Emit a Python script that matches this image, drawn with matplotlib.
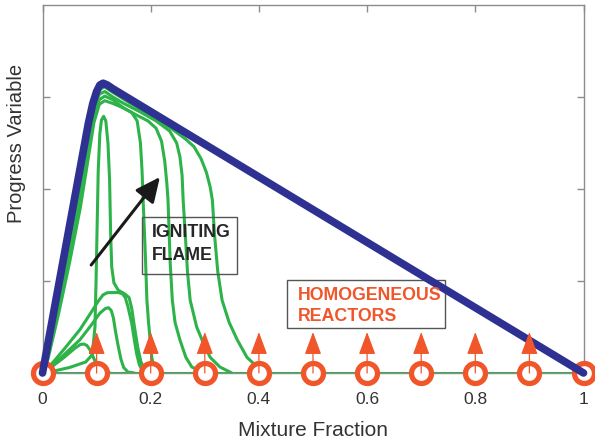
import matplotlib
matplotlib.use("Agg")
import matplotlib.pyplot as plt
from matplotlib.patches import Rectangle

plt.rcParams['font.family'] = ['Liberation Sans', 'DejaVu Sans']

# ---- data -------------------------------------------------------------
# fully burning limit (upper bound of the progress variable)
eq_z = [0.0, 0.02, 0.04, 0.06, 0.075, 0.085, 0.093, 0.100, 0.106, 0.112, 0.120, 0.130, 1.0]
eq_c = [0.0, 0.64, 1.28, 1.92, 2.40, 2.72, 2.93, 3.06, 3.13, 3.15, 3.13, 3.09, 0.0]

# igniting flamelet, successive instants
base_z = [0.0, 1.0]
base_c = [0.0, 0.0]

bump_z = [0.0, 0.02, 0.04, 0.06, 0.070, 0.076, 0.082, 0.088, 0.094, 0.100, 0.106, 0.115, 0.125]
bump_c = [0.0, 0.08, 0.17, 0.27, 0.31, 0.315, 0.30, 0.25, 0.17, 0.09, 0.04, 0.01, 0.0]

peak_z = [0.0, 0.02, 0.04, 0.069, 0.09, 0.106, 0.116, 0.122, 0.127, 0.131, 0.135, 0.140, 0.145, 0.150, 0.158, 0.170]
peak_c = [0.0, 0.09, 0.20, 0.36, 0.52, 0.65, 0.70, 0.71, 0.68, 0.60, 0.45, 0.29, 0.15, 0.06, 0.01, 0.0]

plat_z = [0.0, 0.02, 0.04, 0.069, 0.09, 0.103, 0.112, 0.120, 0.140, 0.148, 0.153, 0.158, 0.165, 0.170, 0.174, 0.179, 0.185, 0.195]
plat_c = [0.0, 0.12, 0.26, 0.47, 0.66, 0.78, 0.85, 0.873, 0.875, 0.86, 0.82, 0.72, 0.54, 0.35, 0.21, 0.09, 0.02, 0.0]

spike_z = [0.0, 0.02, 0.05, 0.08, 0.092, 0.097, 0.099, 0.101, 0.103, 0.106, 0.109, 0.113, 0.117, 0.121,
           0.124, 0.126, 0.128, 0.132, 0.140, 0.152, 0.160, 0.165, 0.170, 0.176, 0.182, 0.190, 0.200]
spike_c = [0.0, 0.02, 0.06, 0.12, 0.20, 0.50, 1.00, 1.60, 2.20, 2.60, 2.75, 2.79, 2.74, 2.50,
           2.10, 1.50, 1.15, 0.98, 0.90, 0.86, 0.82, 0.70, 0.50, 0.28, 0.12, 0.03, 0.0]

d_z = [0.0, 0.01, 0.03, 0.05, 0.07, 0.085, 0.095, 0.105, 0.115, 0.130, 0.150, 0.165, 0.175, 0.181,
       0.184, 0.186, 0.190, 0.193, 0.196, 0.199, 0.202, 0.206, 0.215]
d_c = [0.0, 0.15, 0.65, 1.20, 1.80, 2.35, 2.72, 2.92, 2.96, 2.93, 2.88, 2.83, 2.74, 2.50,
       2.20, 1.88, 1.30, 0.79, 0.55, 0.36, 0.17, 0.06, 0.0]

e_z = [0.0, 0.01, 0.03, 0.05, 0.07, 0.085, 0.095, 0.105, 0.115, 0.130, 0.150, 0.175, 0.195, 0.210,
       0.220, 0.226, 0.230, 0.232, 0.236, 0.240, 0.245, 0.254, 0.265, 0.276, 0.300]
e_c = [0.0, 0.17, 0.70, 1.30, 1.90, 2.45, 2.80, 2.97, 3.01, 2.97, 2.88, 2.80, 2.74, 2.66,
       2.52, 2.30, 2.05, 1.88, 1.20, 0.79, 0.55, 0.36, 0.17, 0.065, 0.0]

f_z = [0.0, 0.01, 0.03, 0.05, 0.07, 0.085, 0.095, 0.105, 0.115, 0.130, 0.150, 0.180, 0.210, 0.235,
       0.248, 0.254, 0.258, 0.260, 0.264, 0.268, 0.273, 0.285, 0.297, 0.310, 0.328, 0.350]
f_c = [0.0, 0.19, 0.75, 1.38, 2.00, 2.55, 2.87, 3.03, 3.06, 3.00, 2.93, 2.84, 2.74, 2.63,
       2.50, 2.35, 2.15, 1.88, 1.50, 1.10, 0.79, 0.50, 0.33, 0.17, 0.065, 0.0]

g_z = [0.0, 0.01, 0.03, 0.05, 0.07, 0.085, 0.095, 0.105, 0.115, 0.130, 0.160, 0.200, 0.240, 0.265,
       0.280, 0.293, 0.303, 0.310, 0.314, 0.318, 0.324, 0.332, 0.345, 0.360, 0.378, 0.397, 0.420]
g_c = [0.0, 0.22, 0.80, 1.45, 2.10, 2.62, 2.93, 3.08, 3.11, 3.05, 2.94, 2.80, 2.65, 2.54,
       2.46, 2.33, 2.18, 2.02, 1.88, 1.50, 1.10, 0.79, 0.55, 0.36, 0.17, 0.065, 0.0]

flame_curves = [(base_z, base_c), (bump_z, bump_c), (peak_z, peak_c), (plat_z, plat_c),
                (spike_z, spike_c), (d_z, d_c), (e_z, e_c), (f_z, f_c), (g_z, g_c)]

# homogeneous reactors
reactor_z = [0.0, 0.1, 0.2, 0.3, 0.4, 0.5, 0.6, 0.7, 0.8, 0.9, 1.0]
reactor_c = [0.0] * len(reactor_z)
rise_z = [0.1, 0.2, 0.3, 0.4, 0.5, 0.6, 0.7, 0.8, 0.9]

xticks = [0, 0.2, 0.4, 0.6, 0.8, 1]
xticklabels = ['0', '0.2', '0.4', '0.6', '0.8', '1']
yticks = [1, 2, 3]

# ---- style ------------------------------------------------------------
GREEN = '#2DB34A'
BLUE = '#2E3192'
ORANGE = '#F0562A'
GREY = '#8C8C8C'
TEXT = '#333333'

fig = plt.figure(figsize=(5.95, 4.44), dpi=100)
ax = fig.add_axes([42.5 / 595, 1 - 373 / 444, 541 / 595, 368 / 444])
ax.set_xlim(0, 1)
ax.set_ylim(0, 4)

for z, c in flame_curves:
    ax.plot(z, c, color=GREEN, lw=2.2, zorder=3, solid_capstyle='round')

ax.plot(eq_z, eq_c, color=BLUE, lw=5.5, zorder=6, solid_joinstyle='round',
        solid_capstyle='round', clip_on=False)

ax.plot(reactor_z, reactor_c, linestyle='none', marker='o', ms=14.4, mew=3.8,
        mfc='white', mec=ORANGE, zorder=5, clip_on=False)

for z in rise_z:
    ax.annotate('', xy=(z, 0.445), xytext=(z, 0.0),
                arrowprops=dict(arrowstyle='-|>,head_length=0.7,head_width=0.26',
                                color=ORANGE, lw=0.9, mutation_scale=20,
                                shrinkA=0, shrinkB=0),
                zorder=7)

# ignition arrow
ax.annotate('', xy=(0.217, 2.13), xytext=(0.090, 1.174),
            arrowprops=dict(arrowstyle='-|>,head_length=0.75,head_width=0.35',
                            color='#1a1a1a', lw=2.2, mutation_scale=20,
                            shrinkA=0, shrinkB=0),
            zorder=8)

# labelled boxes
ax.add_patch(Rectangle((0.1834, 1.076), 0.1766, 0.623, fill=False, ec='#555555', lw=1.0, zorder=4))
for label, yb in (('IGNITING', 1.478), ('FLAME', 1.228)):
    ax.text(0.2018, yb, label, ha='left', va='baseline', fontsize=12.8,
            fontweight='bold', color='#262626', zorder=9)

ax.add_patch(Rectangle((0.4525, 0.486), 0.2915, 0.525, fill=False, ec='#555555', lw=1.0, zorder=4))
for label, yb in (('HOMOGENEOUS', 0.7935), ('REACTORS', 0.5685)):
    ax.text(0.4714, yb, label, ha='left', va='baseline', fontsize=12.8,
            fontweight='bold', color=ORANGE, zorder=9)

# axes frame and ticks
for s in ax.spines.values():
    s.set_color(GREY)
    s.set_linewidth(1.0)
    s.set_zorder(2)
ax.set_xticks(xticks)
ax.set_xticklabels(xticklabels)
ax.set_yticks(yticks)
ax.set_yticklabels([])
ax.tick_params(direction='in', length=5, width=1, color=GREY, top=True, right=True,
               labelsize=12.5, labelcolor=TEXT, pad=14)

fig.text(313 / 595, 1 - 430 / 444, 'Mixture Fraction', ha='center', va='center',
         fontsize=15, color=TEXT)
fig.text(17 / 595, 1 - 143 / 444, 'Progress Variable', ha='center', va='center',
         rotation=90, fontsize=14.5, color=TEXT)

fig.savefig('out.png', dpi=100)
